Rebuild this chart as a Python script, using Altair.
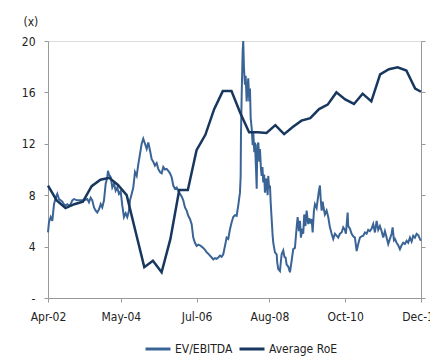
import altair as alt
import pandas as pd

# EV/EBITDA: month offset since Apr-02, value (x)
ev_month = [0, 0.34, 0.93, 1.48, 2.06, 2.64, 3.19, 3.77, 4.36, 4.91, 5.49, 6.07, 6.62, 7.21, 7.79,
            8.34, 8.92, 10.05, 11.22, 12.35, 13.49, 14.07, 14.65, 15.2, 15.79, 16.37, 16.92, 17.5,
            18.09, 18.63, 19.22, 19.8, 20.35, 20.59, 20.93, 21.52, 22.07, 22.65, 23.23, 23.78,
            24.37, 24.95, 25.5, 26.08, 26.66, 27.21, 27.8, 28.14, 28.72, 29.27, 29.86, 30.44,
            30.99, 31.57, 32.15, 32.7, 33.29, 33.87, 34.42, 35.0, 35.59, 36.13, 36.72, 37.3,
            37.85, 38.43, 39.02, 39.57, 40.15, 40.73, 41.28, 41.87, 42.45, 43.0, 43.58, 44.17,
            44.71, 45.3, 45.88, 46.43, 47.01, 47.6, 48.15, 48.73, 49.31, 49.86, 50.45, 51.03,
            51.58, 52.16, 52.74, 53.29, 53.88, 54.46, 55.01, 55.59, 56.18, 56.73, 57.31, 57.89,
            58.44, 59.03, 59.61, 60.16, 60.74, 61.32, 61.87, 62.46, 63.04, 63.59, 64.17, 64.76,
            65.31, 65.89, 66.13, 66.24, 66.48, 66.82, 67.02, 67.26, 67.61, 67.85, 68.19, 68.74,
            69.09, 69.33, 69.57, 69.92, 70.26, 70.47, 70.81, 71.05, 71.4, 71.64, 71.84, 72.19,
            72.53, 72.75, 73.1, 73.34, 73.61, 73.89, 74.2, 74.47, 74.82, 75.1, 75.4, 75.6,
            75.91, 76.19, 76.43, 76.77, 77.11, 77.32, 77.9, 78.49, 78.69, 79.04, 79.62, 79.96,
            80.2, 80.75, 81.16, 81.57, 81.91, 82.46, 83.05, 83.63, 84.18, 84.76, 85.35, 85.69,
            86.13, 86.48, 86.82, 87.27, 87.61, 87.95, 88.37, 88.78, 89.12, 89.33, 89.67, 90.15,
            90.49, 90.84, 91.28, 91.63, 92.2, 92.55, 93.0, 93.34, 93.58, 93.93, 94.27, 94.61,
            95.06, 95.64, 96.19, 96.77, 97.36, 97.91, 98.49, 99.07, 99.62, 100.2, 100.79,
            101.34, 101.92, 102.26, 102.85, 103.05, 103.64, 104.22, 104.77, 105.35, 105.94,
            106.49, 107.07, 107.65, 108.2, 108.79, 109.37, 109.92, 110.5, 111.09, 111.63,
            112.22, 112.8, 113.35, 113.93, 114.52, 115.07, 115.65, 116.23, 116.78, 117.36,
            117.95, 118.29, 118.74, 119.08, 119.66, 120.21, 120.8, 121.38, 121.93, 122.51,
            123.1, 123.64, 124.23, 124.81, 125.36, 125.94, 126.53, 127.08, 127.66, 128.0]
ev_value = [5.1, 5.9, 6.3, 6.0, 7.3, 7.8, 8.1, 7.7, 7.6, 7.5, 7.3, 7.2, 7.3, 7.2, 7.3,
            7.6, 7.7, 7.6, 7.6, 7.6, 7.7, 7.45, 7.8, 7.6, 7.05, 6.8, 6.65, 6.9,
            7.3, 7.05, 7.6, 8.9, 9.4, 9.9, 9.6, 9.4, 8.6, 8.9, 8.35, 8.6,
            8.1, 8.3, 7.2, 6.3, 6.6, 6.3, 6.8, 7.6, 8.1, 8.6, 9.8, 9.5,
            10.4, 11.2, 12.0, 12.4, 12.0, 11.6, 12.1, 11.5, 10.8, 10.6, 10.3, 10.5,
            10.05, 9.8, 9.7, 10.2, 10.0, 10.05, 9.9, 9.7, 9.4, 8.75, 8.5, 8.6,
            8.35, 8.1, 7.9, 7.6, 7.05, 6.8, 6.4, 6.15, 5.75, 4.7, 4.3, 4.05,
            4.15, 4.1, 4.0, 3.9, 3.75, 3.55, 3.45, 3.3, 3.15, 3.0, 3.1, 3.05,
            3.15, 3.3, 3.2, 3.4, 4.05, 4.7, 4.6, 5.35, 5.9, 6.3, 6.45, 6.4,
            7.2, 8.2, 9.5, 12.7, 15.8, 19.2, 20.0, 17.9, 16.6, 17.3, 15.3, 17.1,
            15.3, 16.3, 14.0, 13.2, 11.9, 12.9, 11.35, 12.1, 10.05, 8.5, 11.9, 12.1,
            10.6, 11.6, 10.05, 9.5, 10.2, 9.0, 9.6, 8.2, 9.3, 8.8, 8.0, 9.5,
            8.5, 8.75, 7.45, 6.15, 4.85, 4.3, 3.55, 3.4, 2.75, 2.25, 2.1, 2.9,
            3.4, 3.7, 3.2, 3.15, 2.6, 2.45, 2.0, 2.9, 3.8, 3.9, 5.5, 6.3,
            5.2, 6.0, 4.7, 5.4, 5.0, 6.5, 5.6, 6.8, 6.1, 5.75, 6.2, 5.8,
            6.15, 5.1, 6.8, 7.3, 7.0, 7.6, 8.35, 8.75, 7.8, 6.8, 7.5, 7.0,
            6.5, 6.8, 6.3, 5.5, 5.0, 4.6, 5.0, 4.85, 4.7, 5.0, 5.1,
            5.5, 5.3, 5.0, 6.65, 5.6, 5.4, 5.0, 4.8, 4.7, 3.65,
            4.2, 4.7, 4.8, 4.85, 5.1, 5.0, 5.3, 5.2, 5.4, 5.75,
            5.1, 6.0, 5.3, 5.6, 5.2, 4.7, 5.2, 4.7, 4.2, 4.6,
            5.0, 5.5, 4.5, 4.6, 4.3, 4.1, 3.8, 4.1, 4.3, 4.2,
            4.45, 4.3, 4.7, 4.4, 4.85, 4.7, 5.0, 4.9, 4.6, 4.45]

# Average RoE: quarterly from Apr-02, last point Dec-12
roe_value = [8.75, 7.6, 7.0, 7.3, 7.5, 8.7, 9.2, 9.35, 8.8, 8.0, 5.2, 2.4, 2.9, 2.0, 4.6,
             8.4, 8.4, 11.5, 12.7, 14.7, 16.1, 16.1, 14.4, 12.9, 12.9, 12.85, 13.45, 12.75,
             13.3, 13.8, 14.0, 14.7, 15.05, 16.0, 15.45, 15.1, 15.9, 15.3, 17.4, 17.8, 17.95,
             17.7, 16.3, 16.05]

x_ticks = ["2002-04-01", "2004-05-01", "2006-07-01", "2008-08-01", "2010-10-01", "2012-12-01"]
y_ticks = [0, 4, 8, 12, 16, 20]
series = ["EV/EBITDA", "Average RoE"]
colors = ["#3A6496", "#17375E"]

start = pd.Timestamp("2002-04-01")
ev_df = pd.DataFrame({
    "date": [start + pd.Timedelta(days=m * 30.4375) for m in ev_month],
    "value": ev_value,
    "series": series[0],
})
roe_dates = list(pd.date_range("2002-04-01", periods=len(roe_value) - 1, freq="3MS")) + [pd.Timestamp("2012-12-01")]
roe_df = pd.DataFrame({"date": roe_dates, "value": roe_value, "series": series[1]})

FONT = "'Liberation Sans Narrow', 'DejaVu Sans Condensed', 'Liberation Sans', sans-serif"
FS = 12
x_scale = alt.Scale(domain=[x_ticks[0], x_ticks[-1]])
y_scale = alt.Scale(domain=[0, 20])
color_scale = alt.Scale(domain=series, range=colors)

x_enc = alt.X("date:T", scale=x_scale, axis=alt.Axis(
    values=x_ticks, format="%b-%y", title=None, grid=False, tickSize=4,
    labelPadding=9, labelFlush=False, labelOverlap=False, labelBound=False,
    domainColor="#999999", tickColor="#999999",
    labelFontSize=FS, labelColor="#222222", labelFont=FONT))

ev_layer = alt.Chart(ev_df).mark_line(strokeWidth=2).encode(
    x=x_enc,
    y=alt.Y("value:Q", scale=y_scale, axis=alt.Axis(
        values=y_ticks, labelExpr="datum.value == 0 ? '-' : datum.label",
        title="(x)", titleAngle=0, titleAlign="left", titleBaseline="alphabetic",
        titleX=-25, titleY=-16, titleFontWeight="normal", titleFontSize=FS,
        titleColor="#222222", titleFont=FONT,
        grid=False, tickSize=4, labelPadding=9, domainColor="#999999",
        tickColor="#999999", labelFontSize=FS, labelColor="#222222", labelFont=FONT)),
    color=alt.Color("series:N", scale=color_scale, legend=alt.Legend(
        title=None, orient="none", legendX=96, legendY=294, direction="horizontal",
        symbolType="stroke", symbolSize=625, symbolStrokeWidth=3, labelOffset=3,
        columnPadding=0, padding=0, labelFontSize=FS, labelColor="#222222", labelFont=FONT)),
)

roe_layer = alt.Chart(roe_df).mark_line(strokeWidth=2.5).encode(
    x=alt.X("date:T", scale=x_scale),
    y=alt.Y("value:Q", scale=y_scale, axis=alt.Axis(
        orient="right", values=y_ticks, labels=False, title=None, grid=False,
        tickSize=4, domainColor="#999999", tickColor="#999999")),
    color=alt.Color("series:N", scale=color_scale),
)

chart = alt.layer(ev_layer, roe_layer).resolve_axis(y="independent").resolve_scale(y="shared").properties(
    width=373, height=257,
    autosize=alt.AutoSizeParams(type="none"),
    padding={"left": 48, "top": 41, "right": 9, "bottom": 60},
).configure_view(stroke=None).configure(background="white")

chart.save("out.html", embed_options={"renderer": "svg", "actions": False})
